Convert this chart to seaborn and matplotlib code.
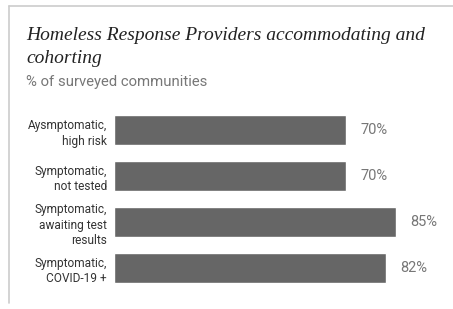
import matplotlib
matplotlib.use("Agg")
import matplotlib.pyplot as plt
import seaborn as sns
import pandas as pd
from matplotlib.lines import Line2D

categories = ["Aysmptomatic,\nhigh risk", "Symptomatic,\nnot tested",
              "Symptomatic,\nawaiting test\nresults", "Symptomatic,\nCOVID-19 +"]
values = [70, 70, 85, 82]
value_labels = ["70%", "70%", "85%", "82%"]

title_lines = ["Homeless Response Providers accommodating and", "cohorting"]
subtitle = "% of surveyed communities"

sns.set_theme(style="white")
plt.rcParams['font.family'] = ['Roboto', 'DejaVu Sans']

df = pd.DataFrame({"category": categories, "value": values})

W, H = 453, 309
fig = plt.figure(figsize=(W / 100, H / 100), dpi=100)
ax = fig.add_axes([114 / W, 1 - 291 / H, 332 / W, 184 / H])

sns.barplot(data=df, x="value", y="category", color="#666666", saturation=1,
            width=0.65, ax=ax, orient="h")
ax.set_xlim(0, 100)
ax.set_ylim(3.5, -0.5)
ax.set_xlabel("")
ax.set_ylabel("")
ax.set_xticks([])
for s in ax.spines.values():
    s.set_visible(False)
ax.tick_params(axis="y", length=0, pad=5, labelsize=8.6, labelcolor="#333333")
for lbl in ax.get_yticklabels():
    lbl.set_linespacing(1.3)
    lbl.set_horizontalalignment("right")

for i, (v, t) in enumerate(zip(values, value_labels)):
    ax.annotate(t, xy=(v, i), xytext=(14, 0), textcoords="offset pixels",
                va="center", ha="left", fontsize=10.5, color="#777777")

# frame lines
fig.add_artist(Line2D([9 / W, 1], [1 - 6 / H, 1 - 6 / H], color="#cccccc", lw=1.2,
                      transform=fig.transFigure))
fig.add_artist(Line2D([9 / W, 9 / W], [1 - 6 / H, 1 - 303 / H], color="#cccccc", lw=1.2,
                      transform=fig.transFigure))

for line, base in zip(title_lines, [40, 63]):
    fig.text(26 / W, 1 - base / H, line, ha="left", va="baseline", fontsize=14.0,
             family=["Liberation Serif"], style="italic", color="#222222")
fig.text(26 / W, 1 - 86 / H, subtitle, ha="left", va="baseline", fontsize=10.7,
         color="#777777")

fig.savefig("out.png", dpi=100)
